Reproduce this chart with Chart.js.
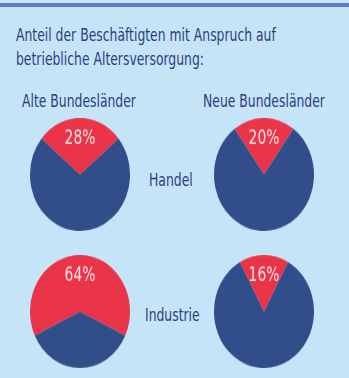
<!DOCTYPE html>
<html lang="de">
<head>
<meta charset="utf-8">
<script src="https://cdn.jsdelivr.net/npm/chart.js@4.4.1/dist/chart.umd.min.js"></script>
<style>
    html, body { margin: 0; padding: 0; }
    body {
        width: 349px; height: 378px; overflow: hidden; position: relative;
        background: #c6e4f8;
        font-family: "DejaVu Sans Condensed", "Liberation Sans Narrow", sans-serif;
        color: #2e3d7c;
    }
    .topline { position: absolute; left: 0; top: 3px; width: 349px; height: 4px; background: #5f7dbc; }
    .txt {
        position: absolute; white-space: nowrap; line-height: 1; font-size: 17px;
        transform-origin: 0 0; transform: scaleX(0.81);
    }
    .pie { position: absolute; width: 100px; height: 100px; transform-origin: 0 0; transform: scaleY(1.13); }
</style>
</head>
<body>
<div class="topline"></div>
<div class="txt" style="left:16px; top:27px">Anteil der Beschäftigten mit Anspruch auf</div>
<div class="txt" style="left:16px; top:51px">betriebliche Altersversorgung:</div>
<div class="txt" id="head0" style="left:22px; top:93px"></div>
<div class="txt" id="head1" style="left:203px; top:93px"></div>
<div class="txt" id="row0" style="left:149px; top:172px"></div>
<div class="txt" id="row1" style="left:145px; top:307px"></div>

<div class="pie" style="left:30px; top:118px"><canvas id="pie-0-0" width="100" height="100"></canvas></div>
<div class="pie" style="left:214px; top:118px"><canvas id="pie-0-1" width="100" height="100"></canvas></div>
<div class="pie" style="left:30px; top:255px"><canvas id="pie-1-0" width="100" height="100"></canvas></div>
<div class="pie" style="left:214px; top:255px"><canvas id="pie-1-1" width="100" height="100"></canvas></div>

<script>
// Daten
const regions = ['Alte Bundesländer', 'Neue Bundesländer'];
const sectors = ['Handel', 'Industrie'];
const handelShares = [28, 20];     // % mit Anspruch, alt / neu
const industrieShares = [64, 16];

const RED = '#ea3447';
const BLUE = '#324e8a';
const STRETCH = 1.13; // Torten sind im Original leicht oval

regions.forEach((r, i) => document.getElementById('head' + i).textContent = r);
sectors.forEach((s, i) => document.getElementById('row' + i).textContent = s);

// Prozentlabel im roten Segment, gegen die Streckung zurückskaliert
const pctLabel = {
    id: 'pctLabel',
    afterDatasetsDraw(chart) {
        const arc = chart.getDatasetMeta(0).data[0];
        const ctx = chart.ctx;
        ctx.save();
        ctx.translate(arc.x, arc.y - arc.outerRadius * 0.62);
        ctx.scale(0.81, 1 / STRETCH);
        ctx.fillStyle = '#fbe6e8';
        ctx.font = "19px 'DejaVu Sans Condensed', sans-serif";
        ctx.textAlign = 'center';
        ctx.textBaseline = 'middle';
        ctx.fillText(chart.data.datasets[0].data[0] + '%', 0, 0);
        ctx.restore();
    }
};

function renderPie(id, pct) {
    new Chart(document.getElementById(id), {
        type: 'pie',
        data: {
            labels: ['mit Anspruch', 'ohne Anspruch'],
            datasets: [{
                data: [pct, 100 - pct],
                backgroundColor: [RED, BLUE],
                borderWidth: 0
            }]
        },
        options: {
            responsive: false,
            animation: false,
            rotation: -pct * 1.8,
            layout: { padding: 0 },
            plugins: { legend: { display: false }, tooltip: { enabled: false } }
        },
        plugins: [pctLabel]
    });
}

[handelShares, industrieShares].forEach((shares, row) => {
    shares.forEach((pct, col) => renderPie(`pie-${row}-${col}`, pct));
});
</script>
</body>
</html>
